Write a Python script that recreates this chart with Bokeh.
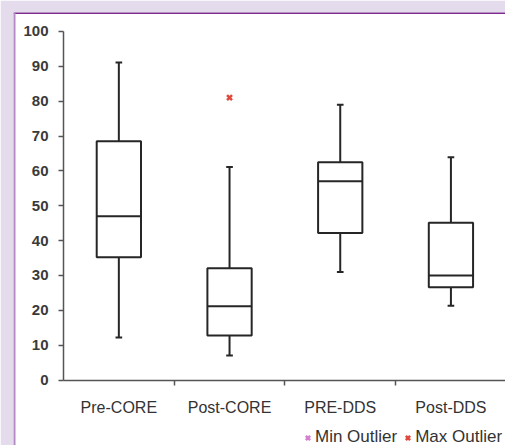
from bokeh.plotting import figure
from bokeh.models import (Range1d, FixedTicker, Legend, LegendItem, LinearAxis, Span)
from bokeh.embed import file_html
from bokeh.resources import INLINE

# ---- data ----
categories = ["Pre-CORE", "Post-CORE", "PRE-DDS", "Post-DDS"]
q_min = [12.2, 7.0, 31.0, 21.3]
q1 = [35.2, 12.8, 42.2, 26.6]
median = [47.0, 21.2, 57.0, 30.0]
q3 = [68.5, 32.1, 62.5, 45.1]
q_max = [91.1, 61.1, 79.0, 63.9]
max_outlier_cat = ["Post-CORE"]
max_outlier_val = [81.0]
min_outlier_cat = []
min_outlier_val = []
y_ticks = [0, 10, 20, 30, 40, 50, 60, 70, 80, 90, 100]

W, H = 505, 445
LAV = "#e4dcec"
MIN_COL = "#d27fd0"
MAX_COL = "#e0483c"

xs = [i + 0.5 for i in range(len(categories))]
half_box = 0.2
half_cap = 0.03
X_END = 3.993

p = figure(width=W, height=H, output_backend="svg", toolbar_location=None,
           x_range=Range1d(-0.4517, X_END), y_range=Range1d(-18.79, 105.45),
           x_axis_location=None, y_axis_location=None,
           min_border_left=13, min_border_right=0, min_border_top=12, min_border_bottom=0)
p.border_fill_color = LAV
p.background_fill_color = "white"
p.outline_line_color = None
p.xgrid.visible = False
p.ygrid.visible = False

LINE = "#262626"
# whiskers
p.segment(x0=xs, y0=q3, x1=xs, y1=q_max, line_color=LINE, line_width=2)
p.segment(x0=xs, y0=q1, x1=xs, y1=q_min, line_color=LINE, line_width=2)
# caps
p.segment(x0=[x - half_cap for x in xs], y0=q_max, x1=[x + half_cap for x in xs], y1=q_max,
          line_color=LINE, line_width=2)
p.segment(x0=[x - half_cap for x in xs], y0=q_min, x1=[x + half_cap for x in xs], y1=q_min,
          line_color=LINE, line_width=2)
# boxes
p.vbar(x=xs, width=2 * half_box, top=q3, bottom=q1, fill_color="white",
       line_color=LINE, line_width=2)
# medians
p.segment(x0=[x - half_box for x in xs], y0=median, x1=[x + half_box for x in xs], y1=median,
          line_color=LINE, line_width=2)

# outliers
mx = [categories.index(c) + 0.5 for c in max_outlier_cat]
r_max = p.scatter(x=mx, y=max_outlier_val, marker="x", size=7,
                  line_color=MAX_COL, line_width=2.5)
mn = [categories.index(c) + 0.5 for c in min_outlier_cat]
p.scatter(x=mn, y=min_outlier_val, marker="x", size=7, line_color=MIN_COL, line_width=2.5)
# legend key for the (empty) min-outlier series: a marker with no position
key_min = p.scatter(x=[float("nan")], y=[float("nan")], marker="x", size=7,
                    line_color=MIN_COL, line_width=2.5)

# axes placed at data zero inside the white panel
AX = "#555555"
xaxis = LinearAxis(fixed_location=0, bounds=(0, X_END),
                   ticker=FixedTicker(ticks=xs, minor_ticks=[1, 2, 3]))
xaxis.major_label_overrides = {x: c for x, c in zip(xs, categories)}
xaxis.major_tick_out = 0
xaxis.major_tick_in = 0
xaxis.minor_tick_out = 5
xaxis.minor_tick_in = 0
xaxis.minor_tick_line_color = AX
xaxis.minor_tick_line_width = 1.5
xaxis.axis_line_color = AX
xaxis.axis_line_width = 1.5
xaxis.major_label_text_font = "Liberation Sans"
xaxis.major_label_text_font_size = "16px"
xaxis.major_label_text_color = "#333333"
xaxis.major_label_standoff = 14
p.add_layout(xaxis, "below")

yaxis = LinearAxis(fixed_location=0, bounds=(0, 100), ticker=FixedTicker(ticks=y_ticks))
yaxis.major_tick_out = 5
yaxis.major_tick_in = 0
yaxis.minor_tick_line_color = None
yaxis.major_tick_line_color = AX
yaxis.major_tick_line_width = 1.5
yaxis.axis_line_color = AX
yaxis.axis_line_width = 1.5
yaxis.major_label_text_font = "Liberation Sans"
yaxis.major_label_text_font_size = "15px"
yaxis.major_label_text_font_style = "bold"
yaxis.major_label_text_color = "#3a3a3a"
yaxis.major_label_standoff = 10
p.add_layout(yaxis, "left")

legend = Legend(items=[LegendItem(label="Min Outlier", renderers=[key_min]),
                       LegendItem(label="Max Outlier", renderers=[r_max])],
                orientation="horizontal", location=(287, -2),
                glyph_width=15, glyph_height=15, label_standoff=0, spacing=3,
                padding=0, margin=0, border_line_color=None, background_fill_alpha=0,
                label_text_font="Liberation Sans", label_text_font_size="17px",
                label_text_color="#333333")
p.add_layout(legend)

# purple border lines along the top and left edges of the white panel
p.add_layout(Span(location=105.45, dimension="width", line_color="#7a2b8c", line_width=3))
p.add_layout(Span(location=-0.4517, dimension="height", line_color="#b48ac4", line_width=4))

open("out.html", "w").write(file_html(p, INLINE))
